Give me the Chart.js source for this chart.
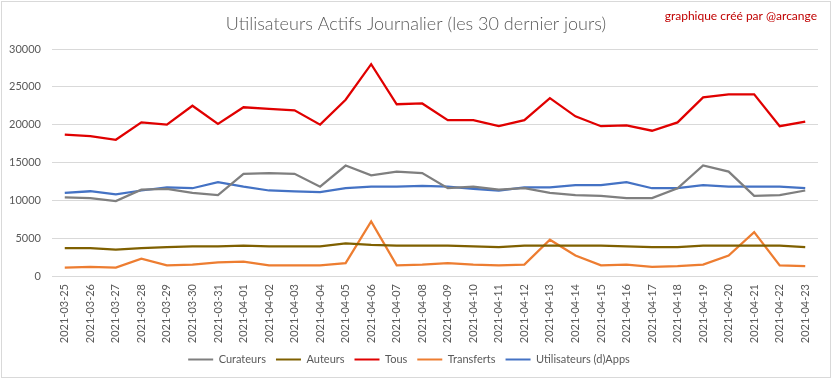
<!DOCTYPE html>
<html>
<head>
<meta charset="utf-8">
<script src="https://cdn.jsdelivr.net/npm/chart.js@4"></script>
<style>
html,body{margin:0;padding:0;background:#fff;}
#wrap{width:833px;height:379px;position:relative;}
</style>
</head>
<body>
<div id="wrap"><canvas id="c" width="833" height="379"></canvas></div>
<script>
const labels = ["2021-03-25","2021-03-26","2021-03-27","2021-03-28","2021-03-29","2021-03-30","2021-03-31","2021-04-01","2021-04-02","2021-04-03","2021-04-04","2021-04-05","2021-04-06","2021-04-07","2021-04-08","2021-04-09","2021-04-10","2021-04-11","2021-04-12","2021-04-13","2021-04-14","2021-04-15","2021-04-16","2021-04-17","2021-04-18","2021-04-19","2021-04-20","2021-04-21","2021-04-22","2021-04-23"];
const curateurs = [10400,10300,9900,11400,11500,11000,10700,13500,13600,13500,11800,14600,13300,13800,13600,11600,11800,11400,11600,11000,10700,10600,10300,10300,11600,14600,13800,10600,10700,11300];
const auteurs = [3700,3700,3500,3700,3800,3900,3900,4000,3900,3900,3900,4300,4100,4000,4000,4000,3900,3800,4000,4000,4000,4000,3900,3800,3800,4000,4000,4000,4000,3800];
const tous = [18700,18500,18000,20300,20000,22500,20100,22300,22100,21900,20000,23300,28000,22700,22800,20600,20600,19800,20600,23500,21100,19800,19900,19200,20300,23600,24000,24000,19800,20400];
const transferts = [1100,1200,1100,2300,1400,1500,1800,1900,1400,1400,1400,1700,7200,1400,1500,1700,1500,1400,1500,4800,2700,1400,1500,1200,1300,1500,2700,5800,1400,1300];
const dapps = [11000,11200,10800,11300,11700,11600,12400,11800,11300,11200,11100,11600,11800,11800,11900,11800,11500,11300,11700,11700,12000,12000,12400,11600,11600,12000,11800,11800,11800,11600];
const yTicks = [0,5000,10000,15000,20000,25000,30000];

const FONT = "Lato, 'Open Sans', 'Liberation Sans', sans-serif";
function ds(label, data, color){
  return {label, data, borderColor: color, backgroundColor: color, borderWidth: 2.25,
    pointRadius: 0, pointHoverRadius: 0, tension: 0, fill: false};
}
const decor = {
  id: 'decor',
  beforeDraw(chart){
    const ctx = chart.ctx;
    ctx.save();
    ctx.fillStyle = '#fff';
    ctx.fillRect(0,0,chart.width,chart.height);
    ctx.strokeStyle = '#d9d9d9';
    ctx.lineWidth = 1;
    ctx.strokeRect(1.5,1.5,829,376);
    ctx.restore();
  },
  afterDraw(chart){
    const ctx = chart.ctx;
    ctx.save();
    ctx.fillStyle = '#595959';
    ctx.font = "300 18px " + FONT;
    ctx.textAlign = 'center';
    ctx.textBaseline = 'middle';
    ctx.fillText('Utilisateurs Actifs Journalier (les 30 dernier jours)', 416, 24);
    ctx.fillStyle = '#c00000';
    ctx.font = "12px " + FONT;
    ctx.textAlign = 'right';
    ctx.fillText('graphique créé par @arcange', 817, 16);
    ctx.restore();
  }
};
new Chart(document.getElementById('c'), {
  type: 'line',
  data: {
    labels: labels,
    datasets: [
      ds('Curateurs', curateurs, '#7f7f7f'),
      ds('Auteurs', auteurs, '#7f6000'),
      ds('Tous', tous, '#e00000'),
      ds('Transferts', transferts, '#ed7d31'),
      ds('Utilisateurs (d)Apps', dapps, '#4472c4')
    ]
  },
  options: {
    responsive: false,
    animation: false,
    devicePixelRatio: 1,
    layout: {padding: {top: 49, right: 15, bottom: 4, left: 0}},
    plugins: {
      legend: {
        position: 'bottom',
        labels: {
          font: {family: FONT, size: 11},
          color: '#595959',
          boxWidth: 25,
          boxHeight: 2,
          padding: 10,
          generateLabels(chart){
            return chart.data.datasets.map((d,i)=>({
              text: d.label, fillStyle: d.borderColor, strokeStyle: d.borderColor,
              lineWidth: 0, hidden: false, datasetIndex: i, fontColor: '#595959'
            }));
          }
        }
      },
      tooltip: {enabled: false},
      title: {display: false}
    },
    scales: {
      x: {
        offset: true,
        grid: {display: false, drawTicks: false},
        border: {display: false},
        ticks: {
          autoSkip: false, maxRotation: 90, minRotation: 90,
          font: {family: FONT, size: 11}, color: '#595959', padding: 8
        },
        afterFit(scale){ scale.height = 68; }
      },
      y: {
        min: 0, max: 30000,
        afterBuildTicks(scale){ scale.ticks = yTicks.map(v=>({value:v})); },
        grid: {color: '#d9d9d9', lineWidth: 1, drawTicks: false},
        border: {display: false},
        ticks: {font: {family: FONT, size: 11}, color: '#595959', padding: 11,
          callback: v => String(v)},
        afterFit(scale){ scale.width = 52; }
      }
    }
  },
  plugins: [decor]
});
</script>
</body>
</html>
